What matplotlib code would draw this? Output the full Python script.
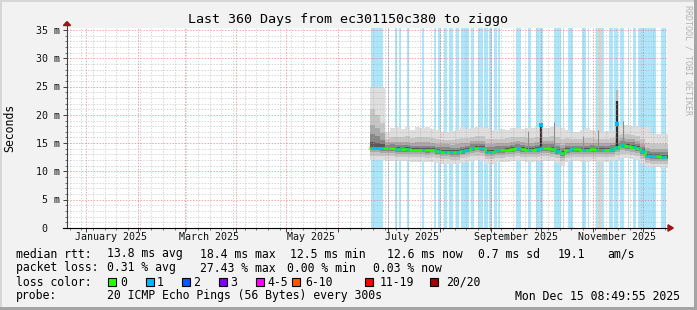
import datetime as dt
import numpy as np
import matplotlib
matplotlib.use('Agg')
import matplotlib.pyplot as plt
import matplotlib.dates as mdates
import matplotlib.transforms as mtransforms
from matplotlib.patches import Rectangle, Polygon

W, H = 697, 310

end_time = dt.datetime(2025, 12, 15, 8, 49, 55)
start_time = end_time - dt.timedelta(days=360)

# one sample every 3 days, counted in days since start_time
first_day = 182
step_days = 3
median_ms = [14.2, 14.2, 14.1, 14.1, 14.1, 13.9, 13.9, 13.9, 13.8, 13.8,
             13.8, 13.7, 13.8, 13.6, 13.5, 13.5, 13.4, 13.4, 13.6, 13.8,
             14.1, 14.2, 14.1, 13.5, 13.5, 13.7, 13.7, 13.8, 14.0, 14.1,
             14.0, 13.8, 13.8, 14.0, 14.1, 14.1, 14.0, 13.6, 13.3, 13.8,
             13.9, 13.9, 13.8, 13.8, 13.9, 13.8, 13.8, 13.8, 13.9, 14.3,
             14.6, 14.5, 14.4, 14.1, 13.6, 12.8, 12.7, 12.7, 12.6, 12.6]
smoke_max = [25.0, 25.0, 24.8, 17.0, 17.6, 17.8, 17.5, 17.9, 17.4, 17.8,
             17.6, 17.9, 17.5, 17.3, 17.0, 17.0, 17.2, 17.4, 17.8, 17.5,
             17.6, 17.9, 17.9, 17.7, 17.4, 17.3, 17.5, 17.4, 17.6, 17.7,
             17.5, 17.7, 17.6, 17.8, 17.7, 17.6, 17.9, 18.0, 17.6, 17.4,
             17.0, 17.0, 17.3, 17.6, 17.3, 17.0, 17.0, 17.1, 17.4, 18.0,
             18.2, 18.2, 18.0, 18.1, 17.7, 17.8, 16.8, 16.7, 16.6, 16.6]
smoke_hi = [21.0, 20.0, 18.5, 15.8, 16.0, 16.1, 16.0, 16.2, 15.9, 16.0,
            16.0, 16.1, 15.9, 15.8, 15.6, 15.6, 15.6, 15.7, 15.9, 15.9,
            16.1, 16.3, 16.2, 15.8, 15.7, 15.8, 15.8, 15.9, 16.0, 16.1,
            16.0, 15.9, 15.9, 16.0, 16.1, 16.1, 16.2, 16.0, 15.7, 15.9,
            15.8, 15.8, 15.8, 15.9, 15.9, 15.8, 15.8, 15.8, 15.9, 16.4,
            16.7, 16.6, 16.5, 16.3, 15.8, 15.1, 14.9, 14.9, 14.8, 14.8]
smoke_lo = [12.8, 12.8, 12.8, 12.7, 12.7, 12.6, 12.6, 12.5, 12.5, 12.5,
            12.5, 12.4, 12.5, 12.3, 12.2, 12.2, 12.1, 12.1, 12.3, 12.5,
            12.7, 12.8, 12.7, 12.2, 12.2, 12.4, 12.4, 12.5, 12.6, 12.7,
            12.6, 12.5, 12.5, 12.6, 12.7, 12.7, 12.6, 12.3, 11.8, 12.4,
            12.5, 12.5, 12.5, 12.5, 12.6, 12.5, 12.5, 12.5, 12.6, 12.9,
            13.1, 13.0, 12.9, 12.7, 12.2, 11.5, 11.4, 11.4, 11.3, 11.3]
smoke_min = [12.0, 12.0, 12.0, 11.9, 11.9, 11.8, 11.8, 11.8, 11.7, 11.7,
             11.7, 11.6, 11.7, 11.5, 11.4, 11.4, 11.3, 11.3, 11.5, 11.7,
             11.9, 12.0, 11.9, 11.4, 11.4, 11.6, 11.6, 11.7, 11.8, 11.9,
             11.8, 11.7, 11.7, 11.8, 11.9, 11.9, 11.8, 11.5, 11.0, 11.7,
             11.8, 11.8, 11.7, 11.7, 11.8, 11.7, 11.7, 11.7, 11.8, 12.1,
             12.4, 12.3, 12.2, 12.0, 11.4, 10.8, 10.7, 10.7, 10.6, 10.6]

# periods with 1 lost ping and with 6-10 lost pings (days since start_time)
loss1_spans = [(182.4, 189.6), (192.6, 193.2), (196.8, 198.0), (199.2, 200.4),
               (204.0, 205.2), (213.0, 214.2), (220.2, 221.4), (222.6, 224.4),
               (226.2, 228.0), (229.2, 231.6), (233.4, 235.2), (236.4, 241.2),
               (242.4, 244.2), (246.6, 249.6), (250.2, 252.6), (253.2, 255.0),
               (256.2, 258.0), (258.6, 259.8), (269.4, 272.4), (276.6, 278.4),
               (281.4, 285.6), (292.2, 296.4), (297.6, 298.2), (300.6, 303.6),
               (309.0, 311.4), (312.6, 313.2), (317.4, 319.2), (320.4, 322.2),
               (325.2, 327.6), (328.2, 330.6), (331.8, 334.2), (336.6, 337.2),
               (339.6, 341.4), (342.6, 353.4), (356.4, 359.4)]
loss6_spans = [(319.2, 320.4)]

dark_spike_days = [284.4, 330.0]
dark_spike_top = [18.2, 22.4]
dark_spike_haze = [18.6, 24.4]
spike_dot_ms = [18.2, 18.3]
grey_spike_days = [276.6, 292.2, 309.6, 318.6, 333.6]
grey_spike_top = [17.1, 18.7, 16.2, 17.3, 18.9]

label_months = [1, 3, 5, 7, 9, 11]
month_labels = ['January 2025', 'March 2025', 'May 2025', 'July 2025',
                'September 2025', 'November 2025']

loss_names = ['0', '1', '2', '3', '4-5', '6-10', '11-19', '20/20']
loss_colors = ['#26ff00', '#00b8ff', '#0059ff', '#7e00ff', '#ff00ff',
               '#ff5500', '#ff0000', '#a10000']
rtt_stats = ['13.8 ms avg', '18.4 ms max', '12.5 ms min', '12.6 ms now',
             '0.7 ms sd', '19.1', 'am/s']
loss_stats = ['0.31 % avg', '27.43 % max', '0.00 % min', '0.03 % now']

plt.rcParams['font.family'] = ['DejaVu Sans Mono']


def px(x, y):
    return x / W, 1 - y / H


def val_at(arr, d):
    i = int((d - first_day) // step_days)
    return arr[min(max(i, 0), len(arr) - 1)]


fig = plt.figure(figsize=(W / 100, H / 100), dpi=100, facecolor='#f2f2f2')
ax = fig.add_axes([67 / W, 82 / H, 600 / W, 200 / H], facecolor='white')

t0 = mdates.date2num(start_time)
ax.set_xlim(t0, t0 + 360)
ax.set_ylim(0, 35.35)

days = first_day + step_days * np.arange(len(median_ms))
xs = np.append(t0 + days, t0 + days[-1] + step_days)


def ext(a):
    return np.append(a, a[-1])


# loss background bars
for a, b in loss1_spans:
    ax.axvspan(t0 + a, t0 + b, color='#ade6fb', lw=0, zorder=1)
for a, b in loss6_spans:
    ax.axvspan(t0 + a, t0 + b, color='#ffc6a8', lw=0, zorder=1)

# smoke
med = np.array(median_ms)
hi = np.array(smoke_hi)
lo = np.array(smoke_lo)
ax.fill_between(xs, ext(smoke_min), ext(smoke_max), step='post', color='#dedede', lw=0, zorder=2)
ax.fill_between(xs, ext(lo), ext(hi), step='post', color='#c6c6c6', lw=0, zorder=2)
for frac, col in [(0.6, '#aaaaaa'), (0.35, '#868686'), (0.15, '#585858')]:
    ax.fill_between(xs, ext(med - frac * (med - lo)), ext(med + frac * (hi - med)),
                    step='post', color=col, lw=0, zorder=2)

for d, top in zip(grey_spike_days, grey_spike_top):
    ax.vlines(t0 + d, val_at(median_ms, d), top, color='#8c8c8c', lw=0.8, zorder=3)
for d, top, haze in zip(dark_spike_days, dark_spike_top, dark_spike_haze):
    ax.vlines(t0 + d, val_at(median_ms, d), haze, color='#b8b8b8', lw=1.6, zorder=3)
    ax.vlines(t0 + d, val_at(median_ms, d), top, color='#2e2e2e', lw=1.6, zorder=3)

# grid (rrdtool paints it over the graph)
dots = (0, (1.5, 1.5))
month_starts = [dt.datetime(2025, m, 1) for m in range(1, 13)]
sundays = [dt.datetime(2024, 12, 22) + dt.timedelta(weeks=k) for k in range(52)]
sundays = [s for s in sundays if s.day != 1 and s < end_time]
for s in sundays:
    ax.axvline(mdates.date2num(s), color='#a8a8a8', alpha=0.45, lw=0.7, ls=dots, zorder=4)
for v in range(1, 36):
    if v % 5:
        ax.axhline(v, color='#a8a8a8', alpha=0.45, lw=0.7, ls=dots, zorder=4)
for m in month_starts:
    ax.axvline(mdates.date2num(m), color='#e86060', alpha=0.55, lw=0.7, ls=dots, zorder=4)
for v in range(5, 36, 5):
    ax.axhline(v, color='#e86060', alpha=0.55, lw=0.7, ls=dots, zorder=4)

# median line, coloured by loss
ax.step(xs, ext(med), where='post', color=loss_colors[0], lw=1.8, zorder=6)
for spans, col in [(loss1_spans, loss_colors[1]), (loss6_spans, loss_colors[5])]:
    for a, b in spans:
        cuts = [a] + [d for d in days if a < d < b] + [b]
        for p, q in zip(cuts[:-1], cuts[1:]):
            ax.hlines(val_at(median_ms, p), t0 + p, t0 + q, color=col, lw=1.8, zorder=7)
ax.plot(t0 + np.array(dark_spike_days), spike_dot_ms, 's', color=loss_colors[1],
        ms=2.2, mew=0, zorder=7)

# axes, ticks and arrows
for sp in ax.spines.values():
    sp.set_visible(False)
ax.plot([0, 0], [0, 1.015], color='#404040', lw=0.8, transform=ax.transAxes, clip_on=False, zorder=8)
ax.plot([-0.007, 1.003], [0, 0], color='black', lw=0.8, transform=ax.transAxes, clip_on=False, zorder=8)
ax.add_patch(Polygon([(-0.006, 1.0125), (0.006, 1.0125), (0, 1.032)], closed=True,
                     color='#9a1515', transform=ax.transAxes, clip_on=False, zorder=9))
ax.add_patch(Polygon([(1.0017, -0.016), (1.0017, 0.016), (1.0105, 0)], closed=True,
                     color='#9a1515', transform=ax.transAxes, clip_on=False, zorder=9))

ax.set_yticks(range(0, 36, 5))
ax.set_yticks(range(0, 36), minor=True)
ax.set_xticks([mdates.date2num(m) for m in month_starts])
ax.set_xticks([mdates.date2num(s) for s in sundays], minor=True)
ax.set_xticklabels([])
ax.set_yticklabels([])
ax.tick_params(which='major', length=3, width=0.7, color='#404040')
ax.tick_params(which='minor', length=1.5, width=0.6, color='#606060')

ylab_tr = mtransforms.offset_copy(ax.get_yaxis_transform(), fig=fig, y=-3.7, units='dots')
for v in range(0, 36, 5):
    ax.text(-0.0125 if v else -0.0325, v, f'{v} m' if v else '0', transform=ylab_tr,
            ha='right', va='baseline', fontsize=7.2, color='#111111')

for m, lab in zip(label_months, month_labels):
    ax.text(mdates.date2num(dt.datetime(2025, m, 15, 12)), -0.06, lab,
            transform=ax.get_xaxis_transform(), ha='center', va='baseline',
            fontsize=7.2, color='#111111')

# titles
fig.text(*px(348, 23.5), 'Last 360 Days from ec301150c380 to ziggo',
         ha='center', va='baseline', fontsize=9.6)
fig.text(*px(10, 128), 'Seconds', rotation=90, ha='center', va='center', fontsize=8.3)
fig.text(*px(688, 5), 'RRDTOOL / TOBI OETIKER', rotation=270, ha='center', va='top',
         fontsize=6, color='#b4b4b4')

# legend rows
fs = 8.3
fig.text(*px(16, 257.5), 'median rtt:', fontsize=fs, va='baseline')
for s, x in zip(rtt_stats, [107, 200, 290, 387, 478, 558, 607]):
    fig.text(*px(x, 257.5), s, fontsize=fs, va='baseline')
fig.text(*px(16, 271.5), 'packet loss:', fontsize=fs, va='baseline')
for s, x in zip(loss_stats, [107, 200, 287, 373]):
    fig.text(*px(x, 271.5), s, fontsize=fs, va='baseline')
fig.text(*px(16, 285.5), 'loss color:', fontsize=fs, va='baseline')
box_x = [108, 146, 182, 219, 256, 292, 365, 430]
text_x = [120, 157, 193, 230, 267, 305, 380, 446]
for name, col, bx, tx in zip(loss_names, loss_colors, box_x, text_x):
    fig.add_artist(Rectangle(px(bx, 286), 8 / W, 8 / H, transform=fig.transFigure,
                             facecolor=col, edgecolor='black', lw=0.8))
    fig.text(*px(tx, 285.5), name, fontsize=fs, va='baseline')
fig.text(*px(16, 299.5), 'probe:', fontsize=fs, va='baseline')
fig.text(*px(107, 299.5), '20 ICMP Echo Pings (56 Bytes) every 300s', fontsize=fs, va='baseline')
fig.text(*px(680, 299.5), end_time.strftime('%a %b %d %H:%M:%S %Y'), fontsize=fs,
         va='baseline', ha='right')

# 3d-ish frame around the canvas
for (x0, y0, w, h), col in [((0, 2, W, 2), '#d6d6d6'), ((0, H, 2, H), '#d6d6d6'),
                            ((0, H, W, 3), '#a4a4a4'), ((W - 3, H, 3, H), '#a4a4a4')]:
    fig.add_artist(Rectangle(px(x0, y0), w / W, h / H, transform=fig.transFigure,
                             facecolor=col, lw=0))

fig.savefig('out.png', dpi=100, facecolor=fig.get_facecolor())
